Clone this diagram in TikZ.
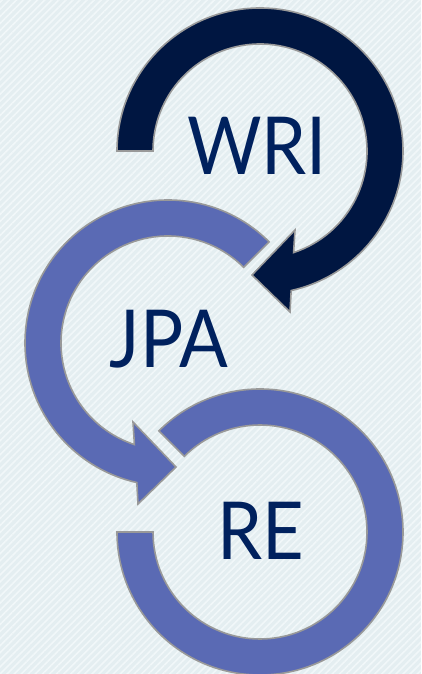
\documentclass[tikz,border=0pt]{standalone}
\usepackage{fontspec}
\setmainfont{Lato}[FakeStretch=0.9]
\usepackage{tikz}
\usetikzlibrary{patterns.meta}
\definecolor{cycleBack}{HTML}{E4EEF1}
\definecolor{cycleStripe}{HTML}{F1F7F9}
\definecolor{cycleNavy}{HTML}{001641}
\definecolor{cycleBlue}{HTML}{5A6AB4}
\definecolor{cycleEdge}{HTML}{999999}
\definecolor{cycleInk}{HTML}{00215E}

\begin{document}
\begin{tikzpicture}[
    x=1pt, y=1pt,
    darkarrow/.style={
        fill=cycleNavy,
        draw=cycleEdge,
        line width=1.6pt,
        line join=miter
    },
    lightarrow/.style={
        fill=cycleBlue,
        draw=cycleEdge,
        line width=1.6pt,
        line join=miter
    },
    label/.style={
        font=\fontsize{80}{80}\selectfont,
        text=cycleInk,
        inner sep=0pt
    }
]
\useasboundingbox (0,0) rectangle (421,674);
\clip (0,0) rectangle (421,674);

% Striped background
\fill[cycleBack] (0,0) rectangle (421,674);
\fill[pattern={Lines[angle=45, distance=5pt, line width=1.6pt]}, pattern color=cycleStripe]
    (0,0) rectangle (421,674);

% WRI arrow, clockwise
\draw[darkarrow, shift={(260,523)}]
    (180:143) arc[start angle=180, end angle=-77.4, radius=143]
    -- (30,-161) -- (-8,-124) -- (35,-79)
    -- (-71.7:107) arc[start angle=-71.7, end angle=180, radius=107] -- cycle;

% JPA arrow, counterclockwise
\draw[lightarrow, shift={(168,331)}]
    (45:143) arc[start angle=45, end angle=257.4, radius=143]
    -- (-30,-161) -- (8,-124) -- (-35,-79)
    -- (251.7:107) arc[start angle=251.7, end angle=45, radius=107] -- cycle;

% RE ring
\draw[lightarrow, shift={(260,142)}]
    (135:143) arc[start angle=135, end angle=-180, radius=143]
    -- (-180:107) arc[start angle=-180, end angle=135, radius=107] -- cycle;

% Labels
\node[label] (wri) at (257,528) {WRI};
\node[label] (jpa) at (169,335) {JPA};
\node[label] (re) at (261,143) {RE};

\end{tikzpicture}
\end{document}
